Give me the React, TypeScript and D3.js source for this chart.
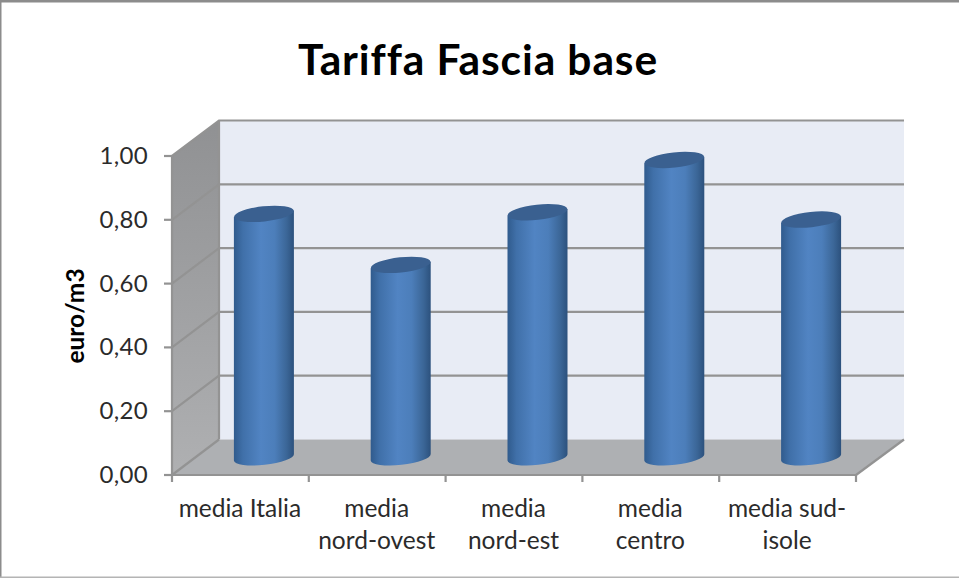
import React from "react";
import * as d3 from "d3";

const categories = ["media Italia", "media\nnord-ovest", "media\nnord-est", "media\ncentro", "media sud-\nisole"];
const tariffs = [0.763, 0.603, 0.768, 0.932, 0.745];
const valueTicks = [0, 0.2, 0.4, 0.6, 0.8, 1];
const titleText = "Tariffa Fascia base";
const axisTitle = "euro/m3";

const W = 959;
const H = 578;
const FONT = "Lato, Carlito, Calibri, sans-serif";
const LINE = "#939393";
const INK = "#2b2b2b";

// Oblique projection: front plane of the box plus a constant depth offset
const depth = { dx: 47, dy: -35.5 };
const x = d3.scaleBand<number>().domain(d3.range(categories.length)).range([172, 856]);
const y = d3.scaleLinear().domain([0, 1]).range([475, 156]);
const fmt = (v: number) => v.toFixed(2).replace(".", ",");
const pts = (p: [number, number][]) => p.map((q) => q.join(",")).join(" ");

function Cylinder({ index, value }: { index: number; value: number }) {
  const cx = x(index)! + x.bandwidth() / 2 + depth.dx / 2;
  const rx = 30;
  const ry = 7.6;
  const yBase = y(0) + depth.dy / 2;
  const yTop = y(value) + depth.dy / 2;
  const tiltDeg = -6.2;
  const drop = rx * Math.sin((-tiltDeg * Math.PI) / 180);
  const side = `M${cx - rx},${yTop + drop} L${cx - rx},${yBase + drop} A${rx},${ry} ${tiltDeg} 0 0 ${cx + rx},${yBase - drop} L${cx + rx},${yTop - drop} Z`;
  return (
    <g>
      <path d={side} fill="url(#cylSide)" />
      <ellipse
        cx={cx}
        cy={yTop}
        rx={rx}
        ry={ry}
        fill="#3a6090"
        transform={`rotate(${tiltDeg} ${cx} ${yTop})`}
      />
    </g>
  );
}

export default function App() {
  const left = 172;
  const right = 856;
  const y0 = y(0);
  const y1 = y(1);
  const wall: [number, number][] = [
    [left, y1],
    [left + depth.dx, y1 + depth.dy],
    [left + depth.dx, y0 + depth.dy],
    [left, y0],
  ];
  const back: [number, number][] = [
    [left + depth.dx, y1 + depth.dy],
    [right + depth.dx + 1, y1 + depth.dy],
    [right + depth.dx + 1, y0 + depth.dy],
    [left + depth.dx, y0 + depth.dy],
  ];
  const floor: [number, number][] = [
    [left, y0],
    [left + depth.dx, y0 + depth.dy],
    [right + depth.dx + 1, y0 + depth.dy],
    [right, y0],
  ];
  return (
    <svg
      width={W}
      height={H}
      viewBox={`0 0 ${W} ${H}`}
      style={{ position: "absolute", left: 0, top: 0, background: "#fff" }}
    >
      <defs>
        <linearGradient id="cylSide" x1="0" x2="1" y1="0" y2="0">
          <stop offset="0" stopColor="#305b8d" />
          <stop offset="0.15" stopColor="#4070a9" />
          <stop offset="0.45" stopColor="#5184c3" />
          <stop offset="0.68" stopColor="#4c7eba" />
          <stop offset="0.88" stopColor="#3b6697" />
          <stop offset="1" stopColor="#2c517d" />
        </linearGradient>
        <linearGradient id="wallFill" x1="0" x2="0" y1="0" y2="1">
          <stop offset="0" stopColor="#909193" />
          <stop offset="1" stopColor="#afb0b2" />
        </linearGradient>
      </defs>

      {/* frame */}
      <rect x={0} y={0} width={W} height={2.5} fill="#8c8c8c" />
      <rect x={0} y={0} width={1.5} height={H} fill="#8c8c8c" />
      <rect x={0} y={H - 1.5} width={W} height={1.5} fill="#b4b4b4" />

      <text
        x={478}
        y={75}
        textAnchor="middle"
        fontFamily={FONT}
        fontWeight={700}
        fontSize={42.5}
        letterSpacing={0.9}
        fill="#000"
      >
        {titleText}
      </text>

      {/* box walls */}
      <polygon points={pts(back)} fill="#e8ecf5" />
      <polygon points={pts(wall)} fill="url(#wallFill)" />
      <polygon points={pts(floor)} fill="#aeb0b3" />

      {/* grid lines run across the side wall and the back wall */}
      {valueTicks.map((t) => (
        <g key={t} stroke={LINE} strokeWidth={2.2} fill="none">
          {t > 0 && (
            <polyline
              points={pts([
                [left, y(t)],
                [left + depth.dx, y(t) + depth.dy],
                [right + depth.dx + 1, y(t) + depth.dy],
              ])}
            />
          )}
          <line x1={left - 8} x2={left} y1={y(t)} y2={y(t)} />
        </g>
      ))}

      {/* box edges */}
      <g stroke={LINE} strokeWidth={2.2} fill="none">
        <line x1={left} x2={left} y1={y1} y2={y0} />
        <line x1={left + depth.dx} x2={left + depth.dx} y1={y1 + depth.dy} y2={y0 + depth.dy} />
        <line x1={left} x2={right} y1={y0} y2={y0} />
        <line x1={right} x2={right + depth.dx + 1} y1={y0} y2={y0 + depth.dy} />
        <line x1={left} x2={left + depth.dx} y1={y0} y2={y0 + depth.dy} />
        {d3.range(categories.length + 1).map((i) => {
          const tx = i < categories.length ? x(i)! : right;
          return <line key={i} x1={tx} x2={tx} y1={y0} y2={y0 + 7} />;
        })}
      </g>

      {tariffs.map((v, i) => (
        <Cylinder key={i} index={i} value={v} />
      ))}

      {valueTicks.map((t) => (
        <text
          key={t}
          x={148}
          y={y(t) + 8}
          textAnchor="end"
          fontFamily={FONT}
          fontSize={24}
          letterSpacing={0.3}
          fill={INK}
        >
          {fmt(t)}
        </text>
      ))}

      <text
        transform="translate(84,316) rotate(-90)"
        textAnchor="middle"
        fontFamily={FONT}
        fontWeight={700}
        fontSize={24.5}
        fill="#000"
      >
        {axisTitle}
      </text>

      {categories.map((c, i) => (
        <text
          key={c}
          textAnchor="middle"
          fontFamily={FONT}
          fontSize={24.5}
          fill={INK}
        >
          {c.split("\n").map((l, j) => (
            <tspan key={j} x={x(i)! + x.bandwidth() / 2 - 0.5} y={517 + j * 32}>
              {l}
            </tspan>
          ))}
        </text>
      ))}
    </svg>
  );
}
